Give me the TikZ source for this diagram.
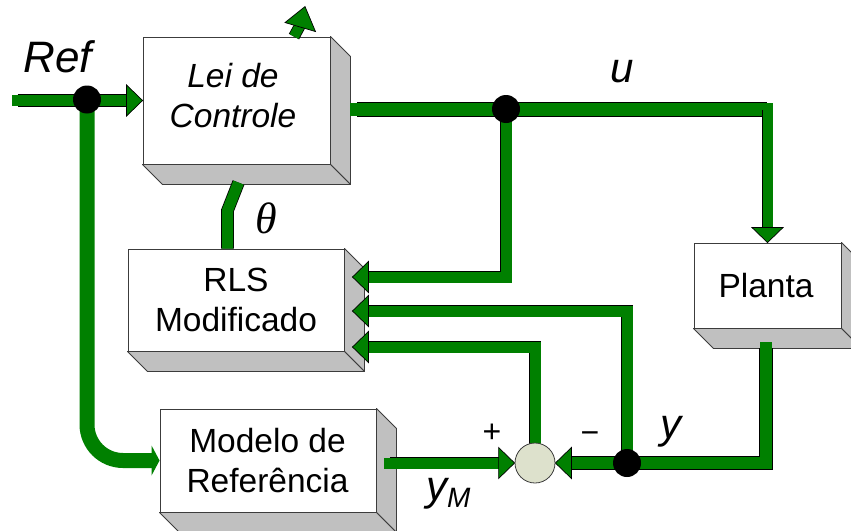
\documentclass[tikz,border=0pt]{standalone}
\usepackage{fontspec}
\setmainfont{Liberation Sans}
\newfontfamily\thetafont{Liberation Serif}
\usetikzlibrary{calc}
\definecolor{pipegreen}{RGB}{0,128,0}
\definecolor{sidegray}{RGB}{192,192,192}
\definecolor{edgegray}{RGB}{60,60,60}
\definecolor{sumfill}{RGB}{221,225,204}
\pgfdeclarelayer{boxes}
\pgfdeclarelayer{front}
\pgfsetlayers{boxes,main,front}
\newcommand\boxsides[1]{%
  \filldraw[sideface] (#1.north east) -- ++(20,20) -- ($(#1.south east)+(20,20)$) -- (#1.south east) -- cycle;
  \filldraw[sideface] (#1.south west) -- ++(20,20) -- ($(#1.south east)+(20,20)$) -- (#1.south east) -- cycle;}
\newcommand\tipL[1]{\filldraw[tipst] #1 -- ++(16,-15.5) -- ++(0,31) -- cycle;}
\newcommand\tipR[1]{\filldraw[tipst] #1 -- ++(-16,-15.5) -- ++(0,31) -- cycle;}
\newcommand\tipD[1]{\filldraw[tipst] #1 -- ++(-15.5,-15) -- ++(31,0) -- cycle;}
\begin{document}
\begin{tikzpicture}[x=1pt,y=-1pt,
  box/.style={rectangle, draw=edgegray, fill=white, line width=0.9pt, inner sep=0pt},
  sideface/.style={fill=sidegray, draw=edgegray, line width=0.9pt, line join=round},
  boxtext/.style={align=center, inner sep=0pt, font=\fontsize{33.5}{40}\selectfont},
  lbl/.style={inner sep=0pt, font=\fontsize{42}{42}\selectfont\itshape},
  pipe/.style={draw=pipegreen, line width=#1, line cap=rect, line join=miter,
    preaction={draw=black, line width=#1+1.6pt}},
  pipe/.default=11pt,
  tipst/.style={fill=pipegreen, draw=black, line width=0.7pt, line join=miter},
  dot/.style={circle, fill=black, minimum size=28pt, inner sep=0pt},
  sumst/.style={circle, fill=sumfill, draw=edgegray, line width=0.8pt, minimum size=40pt, inner sep=0pt}]
\useasboundingbox (0,0) rectangle (851,530);

% ---------- blocks ----------
\begin{pgfonlayer}{boxes}
  \node[box, minimum width=187pt, minimum height=127pt] (lei) at (236.5,100.5) {};
  \node[box, minimum width=216pt, minimum height=102pt] (rls) at (236,300) {};
  \node[box, minimum width=216pt, minimum height=103pt] (modelo) at (268,460.5) {};
  \node[box, minimum width=147pt, minimum height=85pt] (planta) at (767.5,285.5) {};
  \boxsides{lei}
  \boxsides{rls}
  \boxsides{modelo}
  \boxsides{planta}
  \node[boxtext, font=\fontsize{33.5}{40}\selectfont\itshape] (leit) at (233,96) {Lei de\\Controle};
  \node[boxtext] (rlst) at (236,300) {RLS\\Modificado};
  \node[boxtext] (modelot) at (267.5,461) {Modelo de\\Referência};
  \node[boxtext] (plantat) at (766,286) {Planta};
\end{pgfonlayer}

% ---------- junctions ----------
\begin{pgfonlayer}{front}
  \node[dot] (dref) at (87,99.5) {};
  \node[dot] (du) at (506,109) {};
  \node[dot] (dy) at (627,463) {};
  \node[sumst] (sum) at (535,463) {};
\end{pgfonlayer}

\coordinate (refin) at (17.5,100.5);
\coordinate (ucorner) at (766.5,109.5);

% ---------- connectors ----------
% Ref -> Lei de Controle
\draw[pipe] (refin) -- ($(lei.west)+(-16,0)$);
\tipR{(lei.west)}
% Ref -> Modelo de Referencia
\draw[pipegreen, line width=15pt, rounded corners=36pt] (dref.center) |- ($(modelo.west)+(-7,0)$);
\fill[pipegreen] (modelo.west) -- ++(-8,-15) -- ++(0,30) -- cycle;
% Lei de Controle upward output
\draw[pipe=10pt, line cap=butt] ($(lei.north)+(57.5,0)$) -- ++(6,-11);
\filldraw[tipst] ($(lei.north)+(48.5,-14)$) -- ($(lei.north)+(68.5,-30)$) -- ($(lei.north)+(79,-5)$) -- cycle;
% theta: RLS -> Lei de Controle
\draw[pipe=11pt, line cap=butt] ($(rls.north)+(-8.5,0)$) -- ++(0,-38) -- ++(11,-28);
% u line
\draw[pipe=13pt] ($(lei.east)+(26.5,9)$) -- (ucorner);
\draw[pipe=10pt] (767.5,110) -- ($(planta.north)+(0,-15)$);
\tipD{(planta.north)}
% u -> RLS
\draw[pipe=11pt] (du.center) |- ($(rls.east)+(23,-23)$);
\tipL{($(rls.east)+(8,-23)$)}
% y -> RLS
\draw[pipe=11pt] (dy.center) |- ($(rls.east)+(23,11)$);
\tipL{($(rls.east)+(8,11)$)}
% error -> RLS
\draw[pipe=11pt] (sum.center) |- ($(rls.east)+(23,47)$);
\tipL{($(rls.east)+(8,47)$)}
% Planta -> sum
\draw[pipe=12pt] ($(planta.south)+(-1.5,20)$) |- ($(sum.east)+(17,0)$);
\tipL{(sum.east)}
% Modelo -> sum
\draw[pipe=11pt] ($(modelo.east)+(13.5,2.5)$) -- ($(sum.west)+(-16,0)$);
\tipR{(sum.west)}

% ---------- labels ----------
\node[lbl, font=\fontsize{44}{44}\selectfont\itshape, anchor=base] (reflbl) at (58,72) {Ref};
\node[lbl, anchor=base] (ulbl) at (622,82) {u};
\node[lbl, anchor=base] (ylbl) at (671,438) {y};
\node[lbl, anchor=base west] (ymlbl) at (426,500) {y\raisebox{-7pt}{\fontsize{28}{28}\selectfont\itshape M}};
\node[inner sep=0pt, anchor=base, font=\fontsize{44}{44}\thetafont\itshape] (thetalbl) at (266,233) {θ};
\node[inner sep=0pt, font=\fontsize{32}{32}\selectfont] (plus) at (492,433) {+};
\node[inner sep=0pt, font=\fontsize{32}{32}\selectfont] (minus) at (590,438) {−};
\end{tikzpicture}
\end{document}
